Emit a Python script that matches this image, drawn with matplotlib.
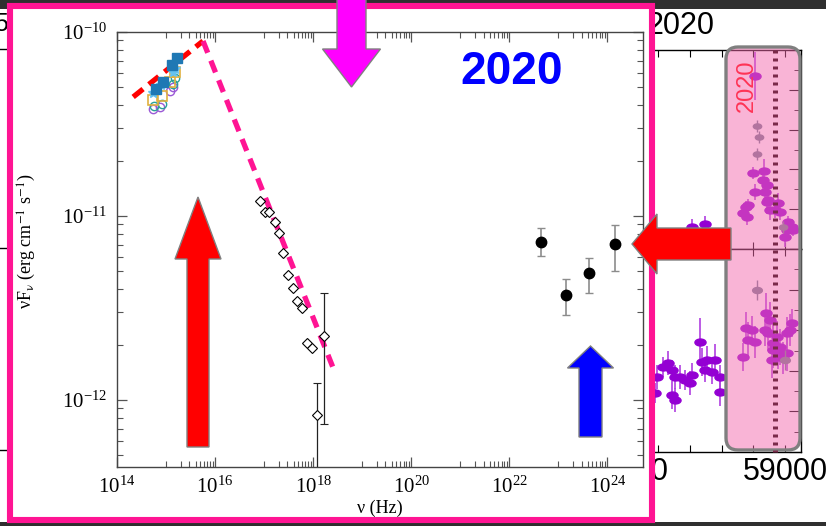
import numpy as np
import matplotlib
matplotlib.use("Agg")
import matplotlib.pyplot as plt
import matplotlib.patches as mpatches
import matplotlib.path as mpath
from matplotlib.lines import Line2D
from matplotlib.transforms import Affine2D, blended_transform_factory
from matplotlib.ticker import FixedLocator, LogLocator, NullFormatter

plt.rcParams['font.family'] = 'serif'
plt.rcParams['font.serif'] = ['Liberation Serif', 'DejaVu Serif']
plt.rcParams['mathtext.fontset'] = 'stix'

W, H = 826, 526

# -----------------------------
# SED data (log10 nu [Hz], log10 nuFnu [erg cm^-2 s^-1])
# -----------------------------
uvot_blue_lognu = [14.80, 14.93, 15.12, 15.22]
uvot_blue_logf = [-10.31, -10.27, -10.18, -10.14]
uvot_cyan_lognu = [14.74, 14.90, 15.14, 15.18]
uvot_cyan_logf = [-10.33, -10.29, -10.22, -10.20]
uvot_yellow_lognu = [14.74, 14.91, 15.08, 15.18]
uvot_yellow_logf = [-10.37, -10.35, -10.27, -10.22]
uvot_green_lognu = [14.76, 14.92, 15.14, 15.18]
uvot_green_logf = [-10.40, -10.39, -10.28, -10.25]
uvot_purple_lognu = [14.74, 14.88, 15.08, 15.14]
uvot_purple_logf = [-10.42, -10.41, -10.32, -10.30]

xrt_lognu = [16.92, 17.02, 17.10, 17.22, 17.31, 17.39, 17.49, 17.59,
             17.67, 17.78, 17.88, 17.98]
xrt_logf = [-10.92, -10.98, -10.98, -11.03, -11.09, -11.20, -11.32, -11.39,
            -11.46, -11.50, -11.69, -11.72]

# two hard-band points with large uncertainties
hard_lognu = [18.22, 18.08]
hard_logf = [-11.65, -12.08]
hard_logf_lo = [-12.13, -13.0]
hard_logf_hi = [-11.42, -11.91]

lat_lognu = [22.65, 23.16, 23.63, 24.15]
lat_logf = [-11.14, -11.43, -11.31, -11.15]
lat_logf_lo = [-11.22, -11.54, -11.42, -11.30]
lat_logf_hi = [-11.065, -11.34, -11.23, -11.05]

# broken power-law guide lines
rise_lognu = [14.33, 15.755]
rise_logf = [-10.353, -10.049]
fall_lognu = [15.755, 18.45]
fall_logf = [-10.049, -11.853]

# -----------------------------
# Light curve data (MJD, flux in arbitrary units)
# -----------------------------
lc_top_mjd = [58905, 58899, 58905, 58934, 58931, 58943, 58937, 58946, 58867,
              58877, 58883, 58880, 58943, 58953, 58968, 58978, 58984, 59009,
              59022, 59006, 59025, 59000, 58707, 58748]
lc_top_flux = [8.69, 3.82, 2.86, 3.92, 3.47, 3.22, 2.86, 2.46, 1.81,
               2.11, 2.21, 1.61, 2.36, 1.96, 1.96, 2.31, 1.86, 1.36,
               1.11, 0.95, 0.95, 0.60, 1.11, 1.26]
lc_top_err = [1.2, 0.3, 0.4, 0.6, 0.5, 0.4, 0.5, 0.4, 0.3,
              0.3, 0.3, 0.4, 0.6, 0.5, 0.4, 0.5, 0.4, 0.3,
              0.4, 0.3, 0.3, 0.5, 0.4, 0.4]
lc_top_gray_mjd = [58912, 58918, 58912, 58994]
lc_top_gray_flux = [6.18, 5.63, 4.77, 1.11]

lc_bot_mjd = [58877, 58896, 58883, 58905, 58867, 58940, 58953, 58937, 58946,
              58962, 58975, 58984, 59006, 59022, 59016, 58959, 58978, 59006,
              58994, 58962, 58596, 58615, 58631, 58643, 58653, 58643, 58653,
              58669, 58684, 58700, 58707, 58732, 58738, 58754, 58748, 58770,
              58779, 58795, 58795, 58590]
lc_bot_flux = [6.11, 6.01, 5.52, 5.42, 4.68, 6.85, 6.50, 6.01, 5.86,
               5.37, 5.67, 5.17, 5.86, 6.35, 6.01, 4.53, 4.88, 4.88,
               4.63, 5.02, 3.69, 4.19, 4.38, 4.04, 3.69, 2.81, 2.56,
               3.69, 3.55, 3.40, 3.79, 5.42, 4.43, 4.53, 4.04, 3.94,
               4.53, 3.69, 2.96, 2.91]
lc_bot_err = [0.8, 0.7, 0.9, 0.8, 0.7, 1.0, 0.9, 0.8, 0.9,
              1.0, 0.8, 0.9, 0.8, 0.7, 0.8, 0.9, 0.8, 0.9,
              0.8, 0.9, 0.6, 0.5, 0.6, 0.5, 0.6, 0.7, 0.6,
              0.6, 0.5, 0.6, 0.6, 1.2, 0.7, 0.7, 0.6, 0.6,
              0.8, 0.6, 0.7, 0.5]
lc_bot_gray_mjd = [58912, 59000]
lc_bot_gray_flux = [7.98, 4.53]

flare_mjd = 58968


def fx(px):
    return px / W


def fy(py):
    return 1 - py / H


fig = plt.figure(figsize=(W / 100, H / 100), dpi=100, facecolor='#2f2f2f')
pix = Affine2D().scale(1 / W, -1 / H).translate(0, 1) + fig.transFigure

# slide background
fig.add_artist(mpatches.Rectangle((0, 9), W, 513, transform=pix,
                                  facecolor='white', edgecolor='none', zorder=0))
for yy in (49, 248, 450):
    fig.add_artist(Line2D([0, 7], [yy, yy], transform=pix, color='black',
                          lw=1, zorder=0.5))
fig.text(fx(8), fy(24), '5', transform=fig.transFigure, ha='right', va='center',
         fontsize=18, family='Liberation Sans', zorder=0.5)

# -----------------------------
# Light curve panels (partly hidden)
# -----------------------------
lc_left, lc_right = 520, 801
ax_top = fig.add_axes([fx(lc_left), fy(249), fx(lc_right) - fx(lc_left), fy(50) - fy(249)])
ax_bot = fig.add_axes([fx(lc_left), fy(452), fx(lc_right) - fx(lc_left), fy(249) - fy(452)])
ellipse = mpath.Path(Affine2D().scale(1.6, 1.0).transform(mpath.Path.unit_circle().vertices),
                     mpath.Path.unit_circle().codes)
for a in (ax_top, ax_bot):
    a.set_zorder(1)
    a.set_xlim(58164, 59050)
    a.set_ylim(0, 10)
    a.xaxis.set_major_locator(FixedLocator(np.arange(58200, 59100, 100)))
    a.yaxis.set_major_locator(FixedLocator(np.arange(0, 11, 2)))
    a.yaxis.set_minor_locator(FixedLocator(np.arange(1, 10, 2)))
    a.tick_params(axis='both', which='both', direction='in', top=True, right=True,
                  left=False, labelleft=False, labelsize=22, length=5, color='black')
    a.tick_params(axis='y', which='major', length=9)
    for s in a.spines.values():
        s.set_linewidth(1.0)

ax_top.tick_params(labelbottom=False)
ax_bot.xaxis.set_major_formatter(
    plt.FuncFormatter(lambda v, p: f"{int(v)}" if int(v) % 500 == 0 else ""))
for lab in ax_bot.get_xticklabels():
    lab.set_family('Liberation Sans')

ax_top.errorbar(lc_top_mjd, lc_top_flux, yerr=lc_top_err, fmt='none',
                ecolor='#b040e0', elinewidth=1.2)
ax_top.plot(lc_top_mjd, lc_top_flux, ls='none', marker=ellipse, ms=8,
            color='#9400d3')
ax_top.errorbar(lc_top_gray_mjd, lc_top_gray_flux, yerr=0.3, fmt='none',
                ecolor='#708090', elinewidth=1.0)
ax_top.plot(lc_top_gray_mjd, lc_top_gray_flux, ls='none', marker=ellipse, ms=6,
            color='#708090')

ax_bot.errorbar(lc_bot_mjd, lc_bot_flux, yerr=lc_bot_err, fmt='none',
                ecolor='#b040e0', elinewidth=1.2)
ax_bot.plot(lc_bot_mjd, lc_bot_flux, ls='none', marker=ellipse, ms=8,
            color='#9400d3')
ax_bot.errorbar(lc_bot_gray_mjd, lc_bot_gray_flux, yerr=0.5, fmt='none',
                ecolor='#708090', elinewidth=1.0)
ax_bot.plot(lc_bot_gray_mjd, lc_bot_gray_flux, ls='none', marker=ellipse, ms=7,
            color='#708090')

fig.text(fx(714), fy(26), '2020', ha='right', va='center', fontsize=22,
         family='Liberation Sans', zorder=1.5)

# highlighted 2020 window
fig.add_artist(mpatches.FancyBboxPatch((726, 47), 74, 403, transform=pix,
                                       boxstyle='round,pad=0,rounding_size=12',
                                       facecolor='#f56aaf', alpha=0.5,
                                       edgecolor='none', zorder=2))
fig.add_artist(mpatches.FancyBboxPatch((726, 47), 74, 403, transform=pix,
                                       boxstyle='round,pad=0,rounding_size=12',
                                       facecolor='none', edgecolor='#7f7f7f',
                                       lw=2.4, zorder=2.2))
flare_tr = blended_transform_factory(ax_bot.transData, fig.transFigure)
fig.add_artist(Line2D([flare_mjd, flare_mjd], [fy(50), fy(452)], transform=flare_tr,
                      color='#7a2a4a', lw=3.6, ls=(0, (0.6, 1.0)), zorder=2.4))
fig.text(fx(747), fy(86), '2020', rotation=90, ha='center', va='center',
         fontsize=17, color='#ff3355', family='Liberation Sans', zorder=2.5)

# -----------------------------
# SED panel
# -----------------------------
fig.add_artist(mpatches.Rectangle((10, 6), 642, 514, transform=pix,
                                  facecolor='white', edgecolor='#ff1493',
                                  lw=4.4, zorder=3))

ax = fig.add_axes([fx(117), fy(467), fx(643) - fx(117), fy(32) - fy(467)])
ax.set_zorder(4)
ax.set_xscale('log')
ax.set_yscale('log')


def p10(v):
    return np.power(10.0, np.asarray(v, dtype=float))


ax.plot(p10(rise_lognu), p10(rise_logf), color='#ff0000', lw=3.8,
        dashes=(2.4, 1.4), zorder=3)
ax.plot(p10(fall_lognu), p10(fall_logf), color='#ff1493', lw=3.8,
        dashes=(2.4, 1.6), zorder=3)

ax.plot(p10(uvot_purple_lognu), p10(uvot_purple_logf), ls='none', marker='o',
        ms=6, mfc='none', mec='#9b59d6', mew=1.0, zorder=4)
ax.plot(p10(uvot_green_lognu), p10(uvot_green_logf), ls='none', marker='o',
        ms=6, mfc='none', mec='#2aa198', mew=1.0, zorder=4)
ax.plot(p10(uvot_yellow_lognu), p10(uvot_yellow_logf), ls='none', marker='s',
        ms=6.5, mfc='none', mec='#e0b040', mew=1.2, zorder=4)
ax.plot(p10(uvot_cyan_lognu), p10(uvot_cyan_logf), ls='none', marker='*',
        ms=7, color='#66c2f0', zorder=4)
ax.plot(p10(uvot_blue_lognu), p10(uvot_blue_logf), ls='none', marker='s',
        ms=6.5, color='#1f78b4', zorder=5)

ax.plot(p10(xrt_lognu), p10(xrt_logf), ls='none', marker='D', ms=5.5,
        mfc='white', mec='black', mew=0.8, zorder=5)
hard_lo = p10(hard_logf) - p10(hard_logf_lo)
hard_hi = p10(hard_logf_hi) - p10(hard_logf)
ax.errorbar(p10(hard_lognu), p10(hard_logf), yerr=[hard_lo, hard_hi], fmt='D',
            ms=5.5, mfc='white', mec='black', mew=0.8, ecolor='#222222',
            elinewidth=0.9, capsize=3, capthick=0.9, zorder=5)

lat_lo = p10(lat_logf) - p10(lat_logf_lo)
lat_hi = p10(lat_logf_hi) - p10(lat_logf)
ax.errorbar(p10(lat_lognu), p10(lat_logf), yerr=[lat_lo, lat_hi], fmt='o',
            ms=7.5, color='black', ecolor='#8c8c8c', elinewidth=1.2,
            capsize=3, capthick=1.0, zorder=5)

ax.set_xlim(1e14, 10 ** 24.73)
ax.set_ylim(10 ** -12.364, 1e-10)
ax.xaxis.set_major_locator(FixedLocator([10.0 ** e for e in range(14, 25, 2)]))
ax.xaxis.set_minor_locator(FixedLocator([k * 10.0 ** e for e in (15, 17, 19, 21, 23)
                                         for k in range(1, 10)]))
ax.xaxis.set_minor_formatter(NullFormatter())
ax.yaxis.set_major_locator(LogLocator(base=10, numticks=10))
ax.yaxis.set_minor_locator(LogLocator(base=10, subs=np.arange(2, 10), numticks=10))
ax.yaxis.set_minor_formatter(NullFormatter())
ax.tick_params(axis='both', which='both', direction='in', top=True, right=True,
               color='#555555', labelsize=15)
ax.tick_params(axis='both', which='major', length=7, width=0.9, pad=7)
ax.tick_params(axis='both', which='minor', length=4, width=0.8)
for s in ax.spines.values():
    s.set_color('#444444')
    s.set_linewidth(1.0)

ax.set_xlabel('ν (Hz)', fontsize=13, labelpad=1)
ax.set_ylabel('νF$_{\\mathrm{\\nu}}$ (erg cm$^{-1}$ s$^{-1}$)', fontsize=13)
ax.yaxis.set_label_coords(-0.150, 0.52)

fig.text(fx(512), fy(72), '2020', ha='center', va='center', fontsize=33,
         fontweight='bold', color='#0000ff', family='Liberation Sans', zorder=6)


# -----------------------------
# Block arrows
# -----------------------------
def vertical_arrow(cx, tip, base, tail, body_hw, head_hw, color):
    verts = [(cx - body_hw, tail), (cx - body_hw, base), (cx - head_hw, base),
             (cx, tip), (cx + head_hw, base), (cx + body_hw, base),
             (cx + body_hw, tail)]
    fig.add_artist(mpatches.Polygon(verts, closed=True, transform=pix,
                                    facecolor=color, edgecolor='#808080',
                                    lw=1.0, zorder=6))


def horizontal_arrow(cy, tip, base, tail, body_hw, head_hw, color):
    verts = [(tail, cy - body_hw), (base, cy - body_hw), (base, cy - head_hw),
             (tip, cy), (base, cy + head_hw), (base, cy + body_hw),
             (tail, cy + body_hw)]
    fig.add_artist(mpatches.Polygon(verts, closed=True, transform=pix,
                                    facecolor=color, edgecolor='#808080',
                                    lw=1.0, zorder=6))


vertical_arrow(198, 197, 259, 447, 11, 23, '#ff0000')
vertical_arrow(590.5, 346, 368, 437, 11.5, 23, '#0000ff')
vertical_arrow(351.5, 87, 49, -5, 14.5, 29, '#ff00ff')
horizontal_arrow(244, 632, 657, 731, 16, 30, '#ff0000')

fig.savefig('out.png', dpi=100, facecolor=fig.get_facecolor())
